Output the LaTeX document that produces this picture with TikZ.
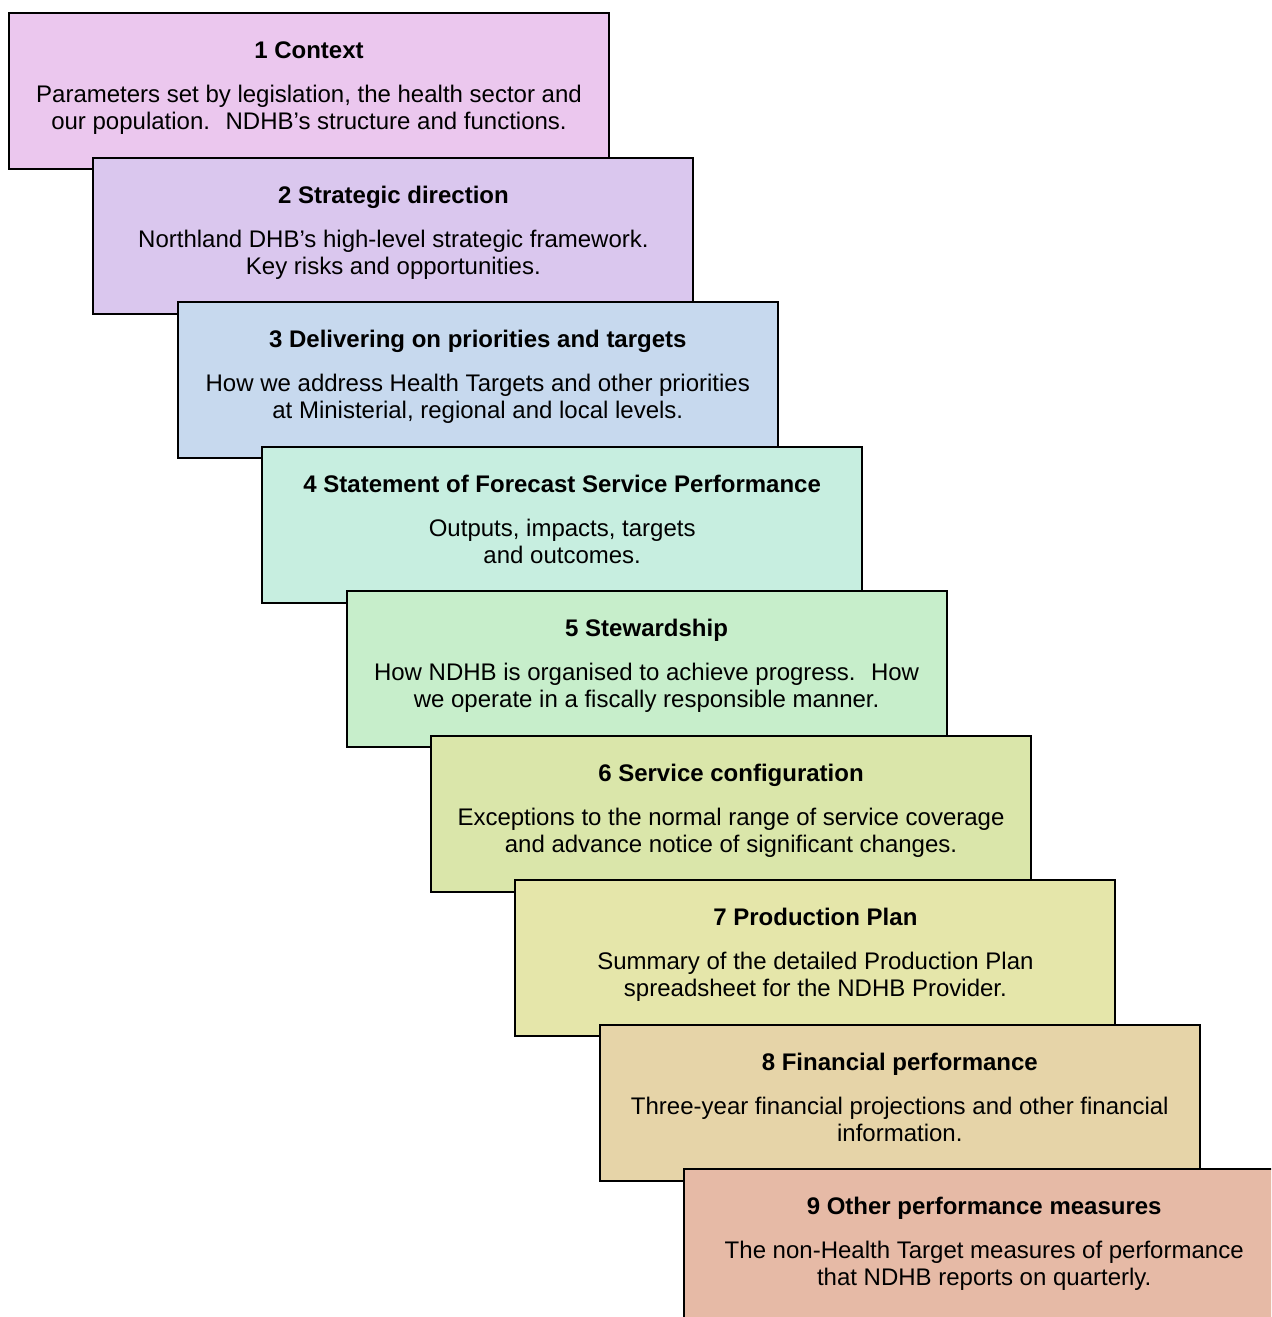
\documentclass[tikz,border=0pt]{standalone}
\usepackage{fontspec}
\setmainfont{Liberation Sans}
\usepackage{tikz}
\usetikzlibrary{positioning}
\definecolor{stage1}{RGB}{235,199,238}
\definecolor{stage2}{RGB}{218,199,238}
\definecolor{stage3}{RGB}{199,217,238}
\definecolor{stage4}{RGB}{199,238,224}
\definecolor{stage5}{RGB}{199,238,203}
\definecolor{stage6}{RGB}{218,230,170}
\definecolor{stage7}{RGB}{229,230,170}
\definecolor{stage8}{RGB}{230,212,168}
\definecolor{stage9}{RGB}{230,186,166}
\tikzset{
  stagebox/.style={draw=black, line width=1pt, anchor=north west, inner sep=0pt,
    minimum width=300pt, minimum height=78pt},
  heading/.style={font=\fontsize{12}{13.5}\selectfont\bfseries, anchor=base, inner sep=0pt},
  blurb/.style={font=\fontsize{12}{13.5}\selectfont, align=center, anchor=base, inner sep=0pt}
}
\begin{document}
\begin{tikzpicture}[x=0.5pt, y=-0.5pt]
	\clip (0,0) rectangle (1271,1317);
	\foreach \i/\head/\body in {%
	  1/{1 Context}/{Parameters set by legislation, the health sector and\\our population.~ NDHB’s structure and functions.},
	  2/{2 Strategic direction}/{Northland DHB’s high-level strategic framework.\\Key risks and opportunities.},
	  3/{3 Delivering on priorities and targets}/{How we address Health Targets and other priorities\\at Ministerial, regional and local levels.},
	  4/{4 Statement of Forecast Service Performance}/{Outputs, impacts, targets\\and outcomes.},
	  5/{5 Stewardship}/{How NDHB is organised to achieve progress.~ How\\we operate in a fiscally responsible manner.},
	  6/{6 Service configuration}/{Exceptions to the normal range of service coverage\\and advance notice of significant changes.},
	  7/{7 Production Plan}/{Summary of the detailed Production Plan\\spreadsheet for the NDHB Provider.},
	  8/{8 Financial performance}/{Three-year financial projections and other financial\\information.},
	  9/{9 Other performance measures}/{The non-Health Target measures of performance\\that NDHB reports on quarterly.}}
	{
	  \node[stagebox, fill=stage\i] (b\i) at ({8+84.4*(\i-1)}, {12+144.5*(\i-1)}) {};
	  \node[heading] (h\i) at ([yshift=-23.25pt]b\i.north) {\head};
	  % base of a two-line blurb is its second line
	  \node[blurb] (t\i) at ([yshift=-58.75pt]b\i.north) {\body};
	}
\end{tikzpicture}
\end{document}
